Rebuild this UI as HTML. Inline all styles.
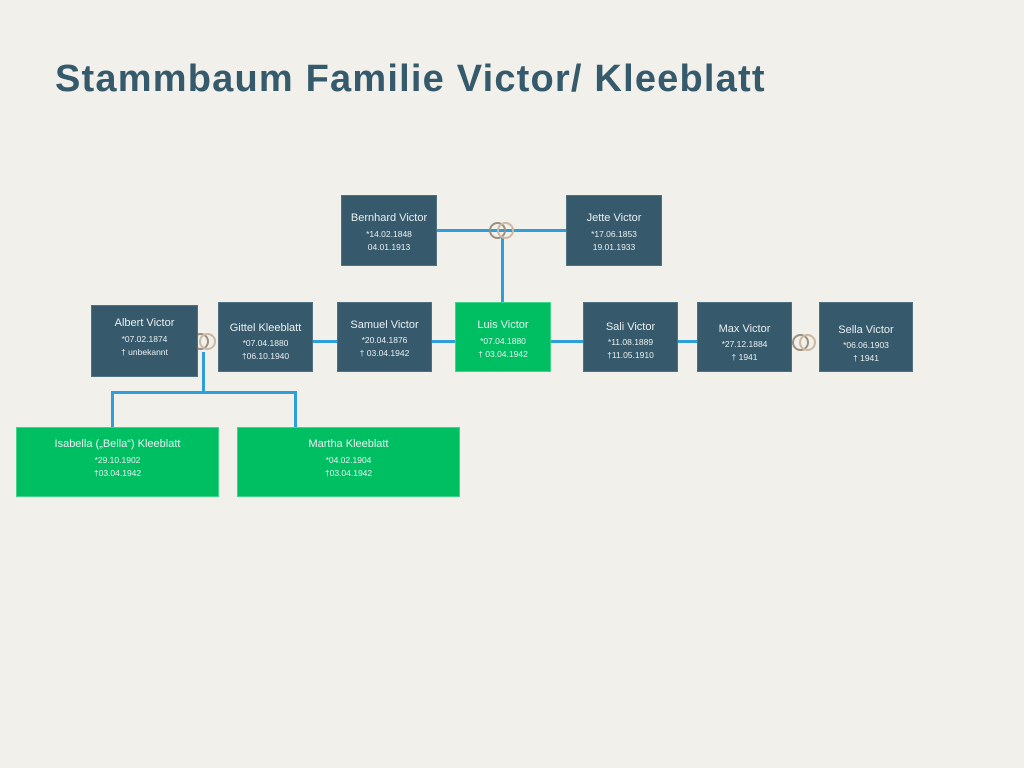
<!DOCTYPE html>
<html><head><meta charset="utf-8"><style>
body{margin:0;width:1024px;height:768px;background:#f2f0eb;position:relative;overflow:hidden;font-family:"Liberation Sans",sans-serif}
h1{position:absolute;left:55px;top:58px;margin:0;font-size:38px;font-weight:bold;color:#355a6c;letter-spacing:1.2px}
.b{position:absolute;background:#365a6c;color:#e8eef0;text-align:center;box-sizing:border-box;border:1px solid #4e7282}
.g{background:#00bf63;border-color:#3ed58b}
.n{font-size:11px;position:absolute;left:0;right:0}
.d{font-size:8.5px;position:absolute;left:0;right:0}
.l{position:absolute;background:#2e9fd8}
.r{position:absolute;width:17px;height:17px;border-radius:50%;border:2px solid #cdb8a2;box-sizing:border-box}
.r2{border-color:#9a8f80}
</style></head><body>
<h1>Stammbaum Familie Victor/ Kleeblatt</h1>

<div class="l" style="left:437px;top:229px;width:129px;height:3px"></div>
<div class="l" style="left:501px;top:238px;width:3px;height:64px"></div>
<div class="l" style="left:313px;top:340px;width:270px;height:3px"></div>
<div class="l" style="left:678px;top:340px;width:20px;height:3px"></div>
<div class="l" style="left:202px;top:352px;width:3px;height:41px"></div>
<div class="l" style="left:111px;top:391px;width:186px;height:3px"></div>
<div class="l" style="left:111px;top:391px;width:3px;height:36px"></div>
<div class="l" style="left:294px;top:391px;width:3px;height:36px"></div>

<div class="r r2" style="left:489px;top:222px"></div><div class="r" style="left:497px;top:222px"></div>
<div class="r r2" style="left:192px;top:333px"></div><div class="r" style="left:199px;top:333px"></div>
<div class="r r2" style="left:792px;top:334px"></div><div class="r" style="left:799px;top:334px"></div>

<div class="b" style="left:341px;top:195px;width:96px;height:71px"><div class="n" style="top:16px">Bernhard Victor</div><div class="d" style="top:33px">*14.02.1848</div><div class="d" style="top:46px">04.01.1913</div></div>
<div class="b" style="left:566px;top:195px;width:96px;height:71px"><div class="n" style="top:16px">Jette Victor</div><div class="d" style="top:33px">*17.06.1853</div><div class="d" style="top:46px">19.01.1933</div></div>

<div class="b" style="left:91px;top:305px;width:107px;height:72px"><div class="n" style="top:11px">Albert Victor</div><div class="d" style="top:28px">*07.02.1874</div><div class="d" style="top:41px">† unbekannt</div></div>
<div class="b" style="left:218px;top:302px;width:95px;height:70px"><div class="n" style="top:19px">Gittel Kleeblatt</div><div class="d" style="top:35px">*07.04.1880</div><div class="d" style="top:48px">†06.10.1940</div></div>
<div class="b" style="left:337px;top:302px;width:95px;height:70px"><div class="n" style="top:16px">Samuel Victor</div><div class="d" style="top:32px">*20.04.1876</div><div class="d" style="top:45px">† 03.04.1942</div></div>
<div class="b g" style="left:455px;top:302px;width:96px;height:70px"><div class="n" style="top:16px">Luis Victor</div><div class="d" style="top:33px">*07.04.1880</div><div class="d" style="top:46px">† 03.04.1942</div></div>
<div class="b" style="left:583px;top:302px;width:95px;height:70px"><div class="n" style="top:18px">Sali Victor</div><div class="d" style="top:34px">*11.08.1889</div><div class="d" style="top:47px">†11.05.1910</div></div>
<div class="b" style="left:697px;top:302px;width:95px;height:70px"><div class="n" style="top:20px">Max Victor</div><div class="d" style="top:36px">*27.12.1884</div><div class="d" style="top:49px">† 1941</div></div>
<div class="b" style="left:819px;top:302px;width:94px;height:70px"><div class="n" style="top:21px">Sella Victor</div><div class="d" style="top:37px">*06.06.1903</div><div class="d" style="top:50px">† 1941</div></div>

<div class="b g" style="left:16px;top:427px;width:203px;height:70px"><div class="n" style="top:10px">Isabella („Bella“) Kleeblatt</div><div class="d" style="top:27px">*29.10.1902</div><div class="d" style="top:40px">†03.04.1942</div></div>
<div class="b g" style="left:237px;top:427px;width:223px;height:70px"><div class="n" style="top:10px">Martha Kleeblatt</div><div class="d" style="top:27px">*04.02.1904</div><div class="d" style="top:40px">†03.04.1942</div></div>
</body></html>
